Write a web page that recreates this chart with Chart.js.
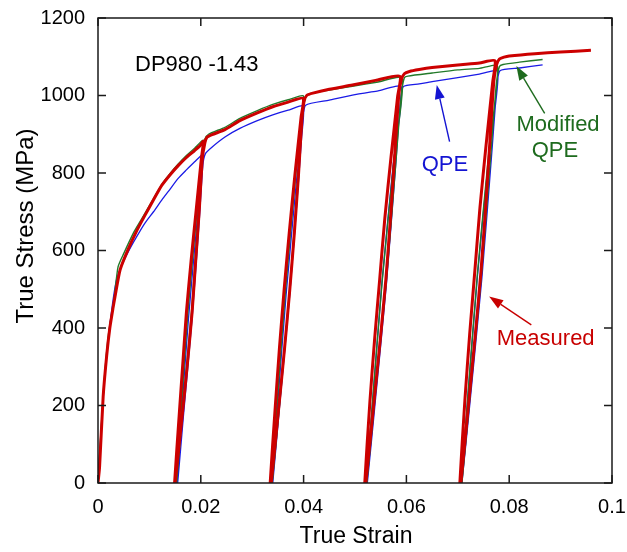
<!DOCTYPE html>
<html>
<head>
<meta charset="utf-8">
<script src="https://cdn.jsdelivr.net/npm/chart.js@4.4.0/dist/chart.umd.min.js"></script>
<style>
  html, body { margin: 0; padding: 0; background: #fff; }
  #wrap { width: 627px; height: 552px; }
</style>
</head>
<body>
<div id="wrap"><canvas id="chart" width="627" height="552"></canvas></div>
<script>
// Measured curve (red), loading + 4 unload/reload loops
const measuredStrain = [
  0, 0.0003, 0.001, 0.0017, 0.0023, 0.0029, 0.0033, 0.0043, 0.0059, 0.0075, 0.0091, 0.0108, 0.0124, 0.014, 0.0156, 0.0172, 0.0188, 0.0198, 0.0205,
  0.0201, 0.0191, 0.0181, 0.0172, 0.0165, 0.0158, 0.0149,
  0.015, 0.0164, 0.0174, 0.0183, 0.019, 0.0197, 0.0203, 0.0208, 0.0212, 0.0222, 0.0247, 0.0276, 0.031, 0.034, 0.037, 0.0399,
  0.0395, 0.0383, 0.0372, 0.0362, 0.0353, 0.0345, 0.0335,
  0.0337, 0.0352, 0.0363, 0.0373, 0.0382, 0.039, 0.0397, 0.0401, 0.0406, 0.0418, 0.045, 0.0495, 0.054, 0.0587,
  0.0583, 0.057, 0.0558, 0.0548, 0.0538, 0.0529, 0.0519,
  0.0521, 0.0537, 0.0549, 0.056, 0.0569, 0.0577, 0.0585, 0.059, 0.0596, 0.0606, 0.0625, 0.065, 0.07, 0.0742, 0.0772,
  0.0768, 0.0755, 0.0743, 0.0733, 0.0723, 0.0714, 0.0704,
  0.0706, 0.0722, 0.0734, 0.0745, 0.0754, 0.0762, 0.077, 0.0775, 0.0781, 0.079, 0.08, 0.085, 0.09, 0.0959
];
const measuredStress = [
  0, 40, 222, 330, 400, 450, 480, 550, 604, 650, 690, 731, 768, 795, 819, 840, 858, 870, 882,
  836, 704, 572, 440, 308, 176, 0,
  0, 176, 308, 440, 572, 704, 836, 878, 892, 899, 912, 935, 955, 971, 983, 993,
  943, 794, 645, 497, 348, 199, 0,
  0, 199, 348, 497, 645, 794, 943, 985, 1000, 1006, 1016, 1027, 1039, 1050,
  998, 840, 683, 525, 368, 210, 0,
  0, 210, 368, 525, 683, 840, 998, 1040, 1056, 1062, 1067, 1072, 1079, 1084, 1090,
  1036, 872, 709, 545, 382, 218, 0,
  0, 218, 382, 545, 709, 872, 1036, 1078, 1094, 1099, 1102, 1108, 1112, 1117
];

// Modified QPE (green)
const modStrain = [
  0, 0.001, 0.002, 0.0031, 0.0039, 0.005, 0.007, 0.0091, 0.0108, 0.0124, 0.014, 0.0156, 0.0172, 0.0188, 0.0205,
  0.0193, 0.0175, 0.0161, 0.0152,
  0.0153, 0.0164, 0.0182, 0.0196, 0.0204, 0.0208, 0.0215, 0.0247, 0.0276, 0.031, 0.034, 0.037, 0.04,
  0.0385, 0.0365, 0.0348, 0.0338,
  0.0339, 0.0353, 0.0373, 0.039, 0.0399, 0.0404, 0.041, 0.045, 0.0495, 0.0545, 0.0592,
  0.0576, 0.0553, 0.0534, 0.0522,
  0.0523, 0.0538, 0.0561, 0.058, 0.059, 0.0596, 0.0603, 0.065, 0.07, 0.0742, 0.0777,
  0.0761, 0.0738, 0.0719, 0.0707,
  0.0708, 0.0723, 0.0746, 0.0765, 0.0775, 0.0781, 0.0788, 0.082, 0.0865
];
const modStress = [
  0, 225, 380, 472, 558, 592, 648, 695, 734, 770, 798, 823, 845, 864, 884,
  708, 443, 177, 0,
  0, 177, 443, 708, 860, 888, 900, 918, 941, 961, 977, 989, 998,
  800, 500, 200, 0,
  0, 200, 500, 800, 960, 996, 1004, 1014, 1024, 1035, 1045,
  836, 523, 209, 0,
  0, 209, 523, 836, 1000, 1046, 1050, 1058, 1066, 1070, 1076,
  861, 538, 215, 0,
  0, 215, 538, 861, 1030, 1075, 1080, 1086, 1093
];

// QPE (blue)
const qpeStrain = [
  0, 0.001, 0.002, 0.0028, 0.0036, 0.0045, 0.0059, 0.0075, 0.0091, 0.0108, 0.0124, 0.014, 0.0156, 0.0172, 0.0188, 0.0205,
  0.0193, 0.0176, 0.0162, 0.0154,
  0.0155, 0.0166, 0.0183, 0.0197, 0.0204, 0.0209, 0.0221, 0.0247, 0.0276, 0.031, 0.034, 0.037, 0.04,
  0.0386, 0.0366, 0.0349, 0.0339,
  0.034, 0.0353, 0.0373, 0.039, 0.0399, 0.0404, 0.045, 0.0495, 0.0545, 0.059,
  0.0574, 0.0552, 0.0534, 0.0523,
  0.0524, 0.0539, 0.0561, 0.0579, 0.0588, 0.0594, 0.0625, 0.065, 0.07, 0.0742, 0.0778,
  0.0761, 0.0738, 0.0719, 0.0707,
  0.0708, 0.0724, 0.0747, 0.0766, 0.0776, 0.0782, 0.082, 0.0865
];
const qpeStress = [
  0, 220, 370, 460, 524, 558, 597, 635, 670, 700, 730, 758, 786, 808, 829, 848,
  678, 424, 170, 0,
  0, 170, 424, 678, 820, 850, 866, 893, 915, 935, 950, 962, 972,
  778, 486, 194, 0,
  0, 194, 486, 778, 940, 975, 988, 1001, 1012, 1022,
  818, 511, 204, 0,
  0, 204, 511, 818, 980, 1023, 1030, 1036, 1046, 1055, 1062,
  850, 531, 212, 0,
  0, 212, 531, 850, 1020, 1064, 1071, 1079
];

const xTicks = [0, 0.02, 0.04, 0.06, 0.08, 0.1];
const xTickLabels = ['0', '0.02', '0.04', '0.06', '0.08', '0.1'];
const yTicks = [0, 200, 400, 600, 800, 1000, 1200];

const RED = '#cc0000';
const GREEN = '#237a2a';
const BLUE = '#1a1ae6';
const FONT = "'Liberation Sans', Arial, sans-serif";

function toPoints(xs, ys) {
  return xs.map((x, i) => ({ x: x, y: ys[i] }));
}

// annotations, placed in data coordinates
const notes = [
  { text: 'DP980 -1.43', x: 0.0072, y: 1079, color: '#000', align: 'left' },
  { text: 'QPE', x: 0.0675, y: 821, color: '#1414d2', align: 'center' },
  { text: 'Modified', x: 0.0895, y: 924, color: '#1e6b1e', align: 'center' },
  { text: 'QPE', x: 0.0889, y: 856, color: '#1e6b1e', align: 'center' },
  { text: 'Measured', x: 0.0871, y: 373, color: '#c80000', align: 'center' }
];
const arrows = [
  { from: [0.0684, 881], to: [0.0659, 1027], color: '#1414d2' },
  { from: [0.0869, 954], to: [0.0814, 1076], color: '#1e6b1e' },
  { from: [0.0843, 408], to: [0.0761, 481], color: '#c80000' }
];

const framePlugin = {
  id: 'frame',
  afterDatasetsDraw(chart) {
    const { ctx, chartArea: a, scales: { x, y } } = chart;
    ctx.save();
    ctx.strokeStyle = '#1a1a1a';
    ctx.lineWidth = 1.5;
    ctx.strokeRect(a.left, a.top, a.right - a.left, a.bottom - a.top);
    ctx.beginPath();
    xTicks.forEach(v => {
      const px = x.getPixelForValue(v);
      ctx.moveTo(px, a.bottom); ctx.lineTo(px, a.bottom - 8);
      ctx.moveTo(px, a.top); ctx.lineTo(px, a.top + 8);
    });
    yTicks.forEach(v => {
      const py = y.getPixelForValue(v);
      ctx.moveTo(a.left, py); ctx.lineTo(a.left + 8, py);
      ctx.moveTo(a.right, py); ctx.lineTo(a.right - 8, py);
    });
    ctx.stroke();

    // arrows
    arrows.forEach(ar => {
      const x1 = x.getPixelForValue(ar.from[0]), y1 = y.getPixelForValue(ar.from[1]);
      const x2 = x.getPixelForValue(ar.to[0]), y2 = y.getPixelForValue(ar.to[1]);
      const ang = Math.atan2(y2 - y1, x2 - x1);
      const hl = 14, hw = 5;
      const bx = x2 - hl * Math.cos(ang), by = y2 - hl * Math.sin(ang);
      ctx.strokeStyle = ar.color;
      ctx.fillStyle = ar.color;
      ctx.lineWidth = 1.4;
      ctx.beginPath();
      ctx.moveTo(x1, y1); ctx.lineTo(bx, by);
      ctx.stroke();
      ctx.beginPath();
      ctx.moveTo(x2, y2);
      ctx.lineTo(bx + hw * Math.sin(ang), by - hw * Math.cos(ang));
      ctx.lineTo(bx - hw * Math.sin(ang), by + hw * Math.cos(ang));
      ctx.closePath();
      ctx.fill();
    });

    // text notes
    ctx.font = '22px ' + FONT;
    ctx.textBaseline = 'middle';
    notes.forEach(n => {
      ctx.fillStyle = n.color;
      ctx.textAlign = n.align;
      ctx.fillText(n.text, x.getPixelForValue(n.x), y.getPixelForValue(n.y));
    });

    // axis titles
    ctx.fillStyle = '#000';
    ctx.font = '23px ' + FONT;
    ctx.textAlign = 'center';
    ctx.fillText('True Strain', (a.left + a.right) / 2 + 1, 537);
    ctx.save();
    ctx.translate(26, 226);
    ctx.rotate(-Math.PI / 2);
    ctx.font = '24px ' + FONT;
    ctx.fillText('True Stress (MPa)', 0, 0);
    ctx.restore();
    ctx.restore();
  }
};

function initChart() {
  const ctx = document.getElementById('chart').getContext('2d');
  new Chart(ctx, {
    type: 'scatter',
    data: {
      datasets: [
        {
          label: 'Measured',
          data: toPoints(measuredStrain, measuredStress),
          borderColor: RED,
          borderWidth: 3,
          showLine: true,
          pointRadius: 0,
          tension: 0.2
        },
        {
          label: 'Modified QPE',
          data: toPoints(modStrain, modStress),
          borderColor: GREEN,
          borderWidth: 1.4,
          showLine: true,
          pointRadius: 0,
          tension: 0.2
        },
        {
          label: 'QPE',
          data: toPoints(qpeStrain, qpeStress),
          borderColor: BLUE,
          borderWidth: 1.3,
          showLine: true,
          pointRadius: 0,
          tension: 0.2
        }
      ]
    },
    options: {
      responsive: false,
      animation: false,
      devicePixelRatio: 1,
      layout: { padding: { top: 18, right: 15, left: 0, bottom: 0 } },
      plugins: {
        legend: { display: false },
        tooltip: { enabled: false }
      },
      scales: {
        x: {
          type: 'linear',
          min: 0,
          max: 0.1,
          afterFit: s => { s.height = 69; s.paddingLeft = 0; s.paddingRight = 0; },
          afterBuildTicks: s => { s.ticks = xTicks.map(v => ({ value: v })); },
          grid: { display: false, drawTicks: false },
          border: { display: false },
          ticks: {
            padding: 12,
            maxRotation: 0,
            autoSkip: false,
            color: '#000',
            font: { family: FONT, size: 20 },
            callback: v => xTickLabels[xTicks.indexOf(v)] ?? ''
          }
        },
        y: {
          type: 'linear',
          min: 0,
          max: 1200,
          afterFit: s => { s.width = 98; s.paddingTop = 0; s.paddingBottom = 0; },
          afterBuildTicks: s => { s.ticks = yTicks.map(v => ({ value: v })); },
          grid: { display: false, drawTicks: false },
          border: { display: false },
          ticks: {
            padding: 13,
            color: '#000',
            font: { family: FONT, size: 20 },
            callback: v => String(v)
          }
        }
      }
    },
    plugins: [framePlugin]
  });
}

document.addEventListener('DOMContentLoaded', initChart);
</script>
</body>
</html>
